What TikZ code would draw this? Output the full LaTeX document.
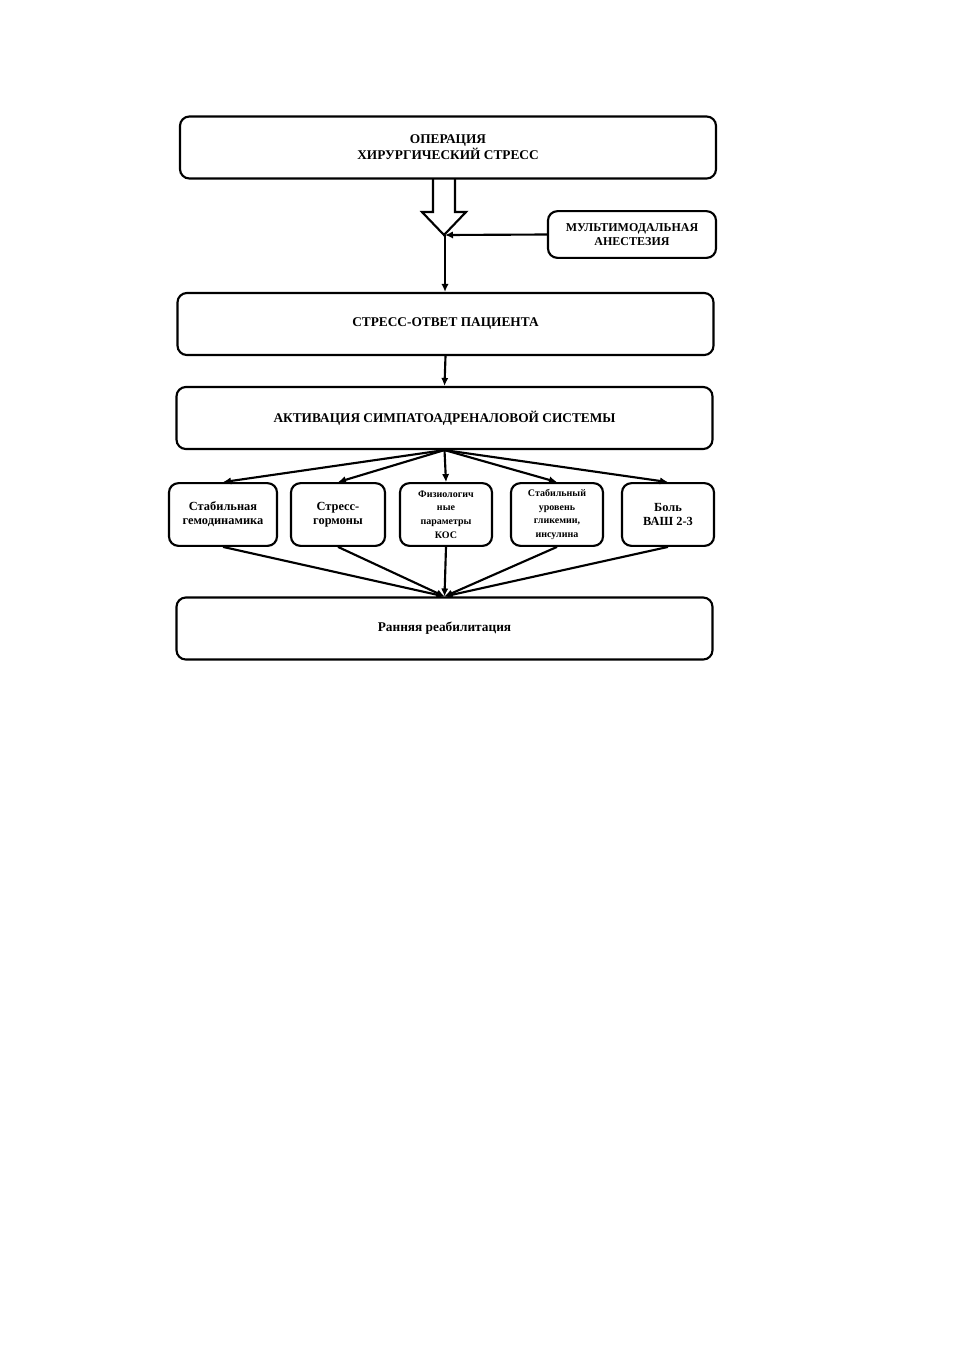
\documentclass[tikz,border=0pt]{standalone}
\usepackage{fontspec}
\setmainfont{Liberation Serif}
\usetikzlibrary{arrows.meta}

\tikzset{
  bigbox/.style={draw, line width=1.6pt, rounded corners=7pt, inner sep=0pt,
    minimum width=402pt, minimum height=46.5pt, align=center,
    font=\fontsize{10}{12}\selectfont\bfseries},
  smallbox/.style={draw, line width=1.6pt, rounded corners=7pt, inner sep=0pt,
    minimum width=69pt, minimum height=47pt, align=center,
    font=\fontsize{9.3}{10.5}\selectfont\bfseries},
  tinytext/.style={font=\fontsize{7.5}{10.2}\selectfont\bfseries},
  conn/.style={line width=1.6pt, -{Latex[length=6pt,width=5.5pt]}}
}

\begin{document}
\begin{tikzpicture}[x=0.75pt,y=0.75pt,yscale=-1,xscale=1]
        \useasboundingbox (0,0) rectangle (954,1350);

        % Main chain
        \node [bigbox] (oper) at (448,147.5) {ОПЕРАЦИЯ\\ХИРУРГИЧЕСКИЙ СТРЕСС};
        \node [bigbox, minimum width=126pt, minimum height=35pt,
               font=\fontsize{9}{10.5}\selectfont\bfseries] (anest) at (632,234.5) {МУЛЬТИМОДАЛЬНАЯ\\АНЕСТЕЗИЯ};
        \node [bigbox] (otvet) at (445.5,324) {СТРЕСС-ОТВЕТ ПАЦИЕНТА};
        \node [bigbox] (sas) at (444.5,418) {АКТИВАЦИЯ СИМПАТОАДРЕНАЛОВОЙ СИСТЕМЫ};

        % Row of effects
        \node [smallbox, minimum width=81pt] (hemo) at (223,514.5) {Стабильная\\гемодинамика};
        \node [smallbox, minimum width=70.5pt] (horm) at (338,514.5) {Стресс-\\гормоны};
        \node [smallbox, tinytext] (kos) at (446,514.5) {Физиологич\\ные\\параметры\\КОС};
        \node [smallbox, tinytext] (glik) at (557,514.5) {Стабильный\\уровень\\гликемии,\\инсулина};
        \node [smallbox] (pain) at (668,514.5) {Боль\\ВАШ 2-3};

        \node [bigbox] (rehab) at (444.5,628.5) {Ранняя реабилитация};

        %Shape: hollow arrow
        \coordinate (tip) at (445,235);
        \draw [line width=1.6pt, line join=miter] (433,178) -- (433,212) -- (422,212) -- (444,235) -- (466,212) -- (455,212) -- (455,178);

        % Connectors
        \draw [conn] (anest.west) -- (tip);
        \draw [conn] (tip) -- (tip |- otvet.north);
        \draw [conn] (otvet.south) -- (sas.north);
        \foreach \n in {hemo,horm,kos,glik,pain}
          \draw [conn] (sas.south) -- (\n.north);
        \foreach \n in {hemo,horm,kos,glik,pain}
          \draw [conn] (\n.south) -- (rehab.north);

\end{tikzpicture}
\end{document}
